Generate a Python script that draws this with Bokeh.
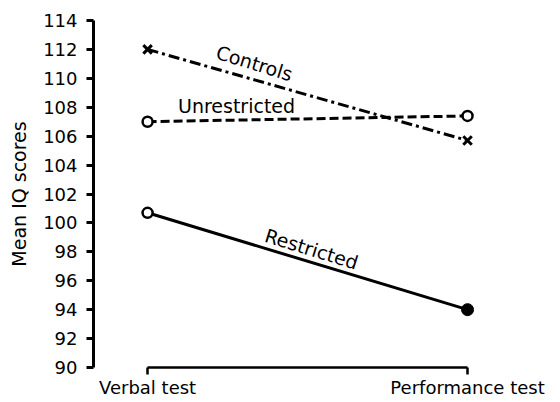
from bokeh.plotting import figure
from bokeh.models import Range1d, FixedTicker, ColumnDataSource
from bokeh.core.properties import value
from bokeh.embed import file_html
from bokeh.resources import INLINE

tests = ["Verbal test", "Performance test"]
test_pos = [0, 1]
controls = [112.0, 105.7]
unrestricted = [107.0, 107.4]
restricted = [100.7, 94.0]
y_ticks = list(range(90, 115, 2))

FONT = "DejaVu Sans"

p = figure(width=560, height=400, output_backend="svg", toolbar_location=None,
           x_range=Range1d(-0.169, 1.228), y_range=Range1d(90, 114),
           min_border_left=93, min_border_right=20, min_border_top=20, min_border_bottom=31)
p.outline_line_color = None
p.grid.visible = False
p.background_fill_color = "white"
p.border_fill_color = "white"

# y axis
ya = p.yaxis[0]
ya.ticker = FixedTicker(ticks=y_ticks)
ya.axis_line_width = 3
ya.major_tick_line_width = 3
ya.major_tick_in = 0
ya.major_tick_out = 7
ya.minor_tick_line_color = None
ya.major_label_text_font = FONT
ya.major_label_text_font_size = "18px"
ya.major_label_text_color = "black"
ya.major_label_standoff = 9
ya.axis_label = "Mean IQ scores"
ya.axis_label_text_font = FONT
ya.axis_label_text_font_size = "19px"
ya.axis_label_text_font_style = "normal"
ya.axis_label_text_color = "black"
ya.axis_label_standoff = 10

# x axis
xa = p.xaxis[0]
xa.ticker = FixedTicker(ticks=test_pos)
xa.major_label_overrides = {pos: t for pos, t in zip(test_pos, tests)}
xa.bounds = (0, 1)
xa.axis_line_width = 2.5
xa.major_tick_line_width = 2.5
xa.major_tick_in = 0
xa.major_tick_out = 7
xa.minor_tick_line_color = None
xa.major_label_text_font = FONT
xa.major_label_text_font_size = "18px"
xa.major_label_text_color = "black"
xa.major_label_standoff = 2

# lines
p.line(test_pos, controls, line_color="black", line_width=3, line_dash="11 4 3 4")
p.line(test_pos, unrestricted, line_color="black", line_width=3, line_dash="9 4")
p.line(test_pos, restricted, line_color="black", line_width=3)

# markers
p.scatter(test_pos, controls, marker="x", size=12, line_color="black", line_width=3)
p.scatter(test_pos, unrestricted, marker="circle", size=10, line_color="black",
          line_width=2.5, fill_color="white")
p.scatter(test_pos[:1], restricted[:1], marker="circle", size=10, line_color="black",
          line_width=2.5, fill_color="white")
p.scatter(test_pos[1:], restricted[1:], marker="circle", size=12, line_color="black",
          fill_color="black")

# series labels
lbl = ColumnDataSource(dict(
    x=[0.334, 0.278, 0.5125],
    y=[111.05, 108.1, 98.2],
    t=["Controls", "Unrestricted", "Restricted"],
    a=[-0.30, 0.0, -0.30],
))
p.text(x="x", y="y", text="t", angle="a", source=lbl, text_font=value(FONT),
       text_font_size="19px", text_align="center", text_baseline="middle",
       text_color="black")

open("out.html", "w").write(file_html(p, INLINE))
